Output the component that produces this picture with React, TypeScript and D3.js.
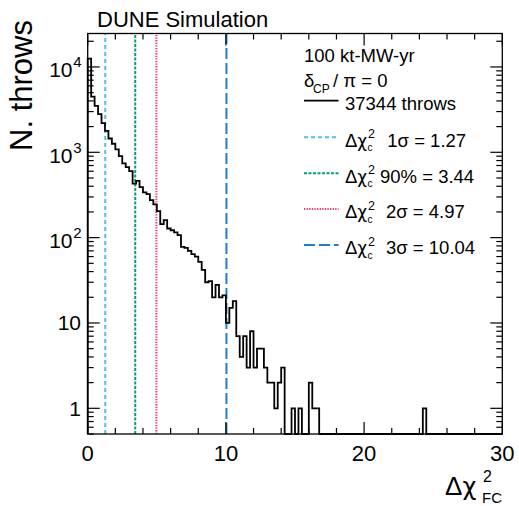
import React from 'react';
import * as d3 from 'd3';

// ---- data ----
const BIN_WIDTH = 0.25;
const X_DOMAIN = [0, 30];
const binCounts = [
  12500, 4500, 3500, 2800, 2200, 1780, 1450, 1260, 1080, 900,
  740, 670, 600, 430, 462, 390, 340, 323, 275, 245,
  205, 144, 160, 128, 122, 115, 107, 78, 76, 70,
  64, 60, 52, 42, 30, 31, 20, 28, 20, 21,
  10, 15, 18, 7, 4, 7, 3, 8, 3, 5,
  5, 3, 2, 2, 1, 2, 3, 0, 0, 1,
  0, 1, 0, 0, 2, 1, 1, 0, 0, 0,
  0, 0, 0, 0, 0, 0, 0, 0, 0, 0,
  0, 0, 0, 0, 0, 0, 0, 0, 0, 0,
  0, 0, 0, 0, 0, 0, 0, 1, 0, 0,
  0, 0, 0, 0, 0, 0, 0, 0, 0, 0,
  0, 0, 0, 0, 0, 0, 0, 0, 0, 0,
];
const cutNames = ['1σ', '90%', '2σ', '3σ'];
const cutValues = [1.27, 3.44, 4.97, 10.04];
const xMajorTicks = [0, 10, 20, 30];
const xTickLabels = ['0', '10', '20', '30'];
const yMajorTicks = [1, 10, 100, 1000, 10000];
const yTickBase = ['1', '10', '10', '10', '10'];
const yTickExp = ['', '', '2', '3', '4'];
const headerLines = ['100 kt-MW-yr'];
const nThrows = 37344;

// ---- styles ----
const cutColors = ['#4fc0ec', '#0a9b7c', '#ee3377', '#1a7fcf'];
const cutDash = ['4,3', '3,1.5', '1.3,1.3', '11,4'];
const FONT = '"Liberation Sans", Arial, Helvetica, sans-serif';
const GREEK = '"DejaVu Sans", sans-serif';

export default function App() {
  const W = 519, H = 506;
  const left = 87.7, right = 502.3, top = 33.5, bottom = 434;
  const x = d3.scaleLinear().domain(X_DOMAIN).range([left, right]);
  const y = d3.scaleLog().domain([0.5, 24660]).range([bottom, top]);

  const pts: [number, number][] = [[x(0), bottom]];
  binCounts.forEach((c, i) => {
    const yy = c > 0 ? y(c) : bottom;
    pts.push([x(i * BIN_WIDTH), yy]);
    pts.push([x((i + 1) * BIN_WIDTH), yy]);
  });
  pts.push([x(binCounts.length * BIN_WIDTH), bottom]);
  const histPath = d3.line()(pts) || '';

  const xMinor = d3.range(0, 30.001, 2).filter((v) => !xMajorTicks.includes(v));
  const yMinor: number[] = [];
  [0.1, 1, 10, 100, 1000, 10000].forEach((d) => {
    for (let k = 2; k <= 9; k++) {
      const v = d * k;
      if (v >= 0.5 && v <= 24660) yMinor.push(v);
    }
  });

  const majLen = 12, minLen = 6;
  const legX = 304, legX2 = 338.5, legTextX = 345;
  const rowY = [137.3, 173.3, 209, 245];
  const numX = [387.3, 380, 386, 386];

  return (
    <svg width={W} height={H} style={{ position: 'absolute', left: 0, top: 0, background: '#fff' }} fontFamily={FONT}>
      <rect x={0} y={0} width={W} height={H} fill="#fff" />
      {/* cut lines */}
      {cutValues.map((v, i) => (
        <line key={'cut' + i} x1={x(v)} x2={x(v)} y1={bottom} y2={top} stroke={cutColors[i]} strokeWidth={2} strokeDasharray={cutDash[i]} />
      ))}
      {/* histogram */}
      <path d={histPath} fill="none" stroke="#000" strokeWidth={1.8} strokeLinejoin="miter" />
      {/* frame */}
      <rect x={left} y={top} width={right - left} height={bottom - top} fill="none" stroke="#000" strokeWidth={1.3} />
      {/* x ticks */}
      {xMajorTicks.map((v) => (
        <g key={'xM' + v}>
          <line x1={x(v)} x2={x(v)} y1={bottom} y2={bottom - majLen} stroke="#000" strokeWidth={1.2} />
          <line x1={x(v)} x2={x(v)} y1={top} y2={top + majLen} stroke="#000" strokeWidth={1.2} />
        </g>
      ))}
      {xMinor.map((v) => (
        <g key={'xm' + v}>
          <line x1={x(v)} x2={x(v)} y1={bottom} y2={bottom - minLen} stroke="#000" strokeWidth={1.2} />
          <line x1={x(v)} x2={x(v)} y1={top} y2={top + minLen} stroke="#000" strokeWidth={1.2} />
        </g>
      ))}
      {/* y ticks */}
      {yMajorTicks.map((v) => (
        <g key={'yM' + v}>
          <line x1={left} x2={left + majLen} y1={y(v)} y2={y(v)} stroke="#000" strokeWidth={1.2} />
          <line x1={right} x2={right - majLen} y1={y(v)} y2={y(v)} stroke="#000" strokeWidth={1.2} />
        </g>
      ))}
      {yMinor.map((v) => (
        <g key={'ym' + v}>
          <line x1={left} x2={left + minLen} y1={y(v)} y2={y(v)} stroke="#000" strokeWidth={1.2} />
          <line x1={right} x2={right - minLen} y1={y(v)} y2={y(v)} stroke="#000" strokeWidth={1.2} />
        </g>
      ))}
      {/* x tick labels */}
      {xMajorTicks.map((v, i) => (
        <text key={'xl' + v} x={x(v)} y={460.7} fontSize={22} textAnchor="middle">{xTickLabels[i]}</text>
      ))}
      {/* y tick labels */}
      {yMajorTicks.map((v, i) => (
        yTickExp[i] ? (
          <g key={'yl' + v}>
            <text x={72.5} y={y(v) + 10.5} fontSize={21} textAnchor="end">{yTickBase[i]}</text>
            <text x={81.7} y={y(v) + 0.5} fontSize={15} textAnchor="end">{yTickExp[i]}</text>
          </g>
        ) : (
          <text key={'yl' + v} x={81} y={y(v) + 7.5} fontSize={21} textAnchor="end">{yTickBase[i]}</text>
        )
      ))}
      {/* axis titles */}
      <text transform="translate(31.7,20) rotate(-90)" fontSize={31} textAnchor="end">N. throws</text>
      <text x={445} y={495} fontSize={26}>Δ<tspan fontFamily={GREEK} fontSize={24}>χ</tspan></text>
      <text x={483} y={482} fontSize={16}>2</text>
      <text x={482} y={503} fontSize={15}>FC</text>
      {/* header */}
      <text x={97} y={27} fontSize={22}>DUNE Simulation</text>
      {/* legend */}
      <text x={legX} y={61.7} fontSize={18.5}>{headerLines[0]}</text>
      <text x={legX} y={86.7} fontSize={18.5}>δ</text>
      <text x={313} y={93.3} fontSize={12}>CP</text>
      <text x={333} y={86.7} fontSize={18.5}>/ π = 0</text>
      <line x1={legX} x2={legX2} y1={100.7} y2={100.7} stroke="#000" strokeWidth={1.8} />
      <text x={legTextX} y={110} fontSize={18.5}>{nThrows} throws</text>
      {cutValues.map((v, i) => (
        <g key={'leg' + i}>
          <line x1={legX} x2={legX2} y1={rowY[i]} y2={rowY[i]} stroke={cutColors[i]} strokeWidth={2} strokeDasharray={cutDash[i]} />
          <text x={legTextX} y={rowY[i] + 9.4} fontSize={18.5}>Δ<tspan fontFamily={GREEK} fontSize={17}>χ</tspan></text>
          <text x={368} y={rowY[i] + 0.8} fontSize={12.5}>2</text>
          <text x={367.5} y={rowY[i] + 13.5} fontSize={10}>c</text>
          <text x={numX[i]} y={rowY[i] + 9.4} fontSize={18.5}>{cutNames[i]} = {v.toFixed(2)}</text>
        </g>
      ))}
    </svg>
  );
}
